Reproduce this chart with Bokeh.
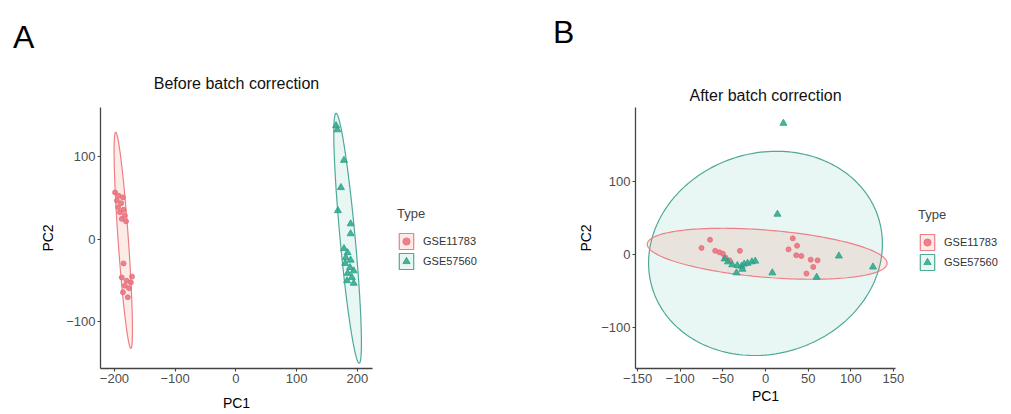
import numpy as np
from bokeh.plotting import figure
from bokeh.layouts import row
from bokeh.models import Range1d, FixedTicker, Legend, LegendItem, Div
from bokeh.embed import file_html
from bokeh.resources import INLINE

# ---------------- data ----------------
groups = ["GSE11783", "GSE57560"]
legend_title = "Type"
panel_letters = ["A", "B"]
panel_titles = ["Before batch correction", "After batch correction"]

# Panel A: before batch correction
a_red_x = [-199, -193, -186, -196, -189, -194, -185, -191, -183, -188, -181,
           -185, -188, -180, -173, -183, -176, -186, -178, -171]
a_red_y = [57, 53, 51, 47, 44, 39, 36, 33, 29, 25, 22,
           -29, -46, -50, -52, -56, -59, -64, -70, -45]
a_grn_x = [165, 167, 178, 173, 168, 189, 189,
           178, 184, 181, 189, 180, 188, 194, 184, 191, 194, 183]
a_grn_y = [138, 133, 96, 63, 35, 19, 7,
           -11, -16, -22, -25, -29, -34, -38, -41, -46, -53, -50]

# Panel B: after batch correction
b_red_x = [-75, -65, -59, -54, -50, -47, -30, 32, 37, 27, 36, 42, 53, 61, 56, 48, -42]
b_red_y = [9, 20, 5, 3, 1, -4, 5, 22, 12, 7, -1, -2, -7, -8, -17, -26, -8]
b_grn_x = [21, 14, 86, 126, 8, 60,
           -48, -44, -39, -34, -33, -28, -25, -21, -16, -12, -27]
b_grn_y = [179, 55, -2, -17, -25, -31,
           -6, -10, -14, -25, -15, -16, -13, -12, -10, -9, -20]

# confidence ellipses: centre (cx, cy), conjugate semi-axis vectors a=(ax, ay), b=(bx, by)
a_ell_red = dict(cx=-185.5, cy=-1.0, ax=-12.5, ay=131.0, bx=8.5, by=0.0)
a_ell_grn = dict(cx=184.0, cy=1.5, ax=-19.0, ay=151.5, bx=12.5, by=0.0)
b_ell_red = dict(cx=2.0, cy=1.0, ax=140.5, ay=-13.6, bx=3.0, by=32.0)
b_ell_grn = dict(cx=0.0, cy=1.5, ax=137.0, ay=9.0, bx=4.0, by=139.0)

a_xticks = [-200, -100, 0, 100, 200]
a_yticks = [-100, 0, 100]
b_xticks = [-150, -100, -50, 0, 50, 100, 150]
b_yticks = [-100, 0, 100]

RED = "#E8707A"
GRN = "#2BA58A"
FONT = "Liberation Sans"
RED_FILL = dict(fill_color="#F08070", fill_alpha=0.16, line_color="#EE7F85", line_width=1.2)
GRN_FILL = dict(fill_color="#00A087", fill_alpha=0.09, line_color="#4FA996", line_width=1.2)
RED_PT = dict(marker="circle", size=5, fill_color=RED, line_color=RED, fill_alpha=0.85, line_alpha=0.85)
GRN_PT = dict(marker="triangle", size=7, fill_color=GRN, line_color=GRN, fill_alpha=0.85, line_alpha=0.85)

H = 414          # figure height
TOP = 107        # common top border (frames line up across the row)
BOTTOM = 46      # common bottom border


def ellipse_pts(e, n=200):
    t = np.linspace(0, 2 * np.pi, n)
    xs = e["cx"] + e["ax"] * np.cos(t) + e["bx"] * np.sin(t)
    ys = e["cy"] + e["ay"] * np.cos(t) + e["by"] * np.sin(t)
    return xs, ys


def style_axes(p, xt, yt):
    p.xaxis.ticker = FixedTicker(ticks=xt)
    p.yaxis.ticker = FixedTicker(ticks=yt)
    for ax in (p.xaxis[0], p.yaxis[0]):
        ax.axis_line_color = "#444444"
        ax.axis_line_width = 1.3
        ax.major_tick_line_color = "#444444"
        ax.major_tick_line_width = 1.1
        ax.major_tick_out = 3
        ax.major_tick_in = 0
        ax.minor_tick_line_color = None
        ax.major_label_text_color = "#4D4D4D"
        ax.major_label_text_font = FONT
        ax.major_label_text_font_size = "13px"
        ax.major_label_standoff = 2
        ax.axis_label_text_font = FONT
        ax.axis_label_text_font_size = "14px"
        ax.axis_label_text_font_style = "normal"
        ax.axis_label_text_color = "#000000"
    p.xgrid.grid_line_color = None
    p.ygrid.grid_line_color = None
    p.outline_line_color = None


def letter_div(letter, width, pad_left, pad_top):
    html = ('<div style="padding:%dpx 0 0 %dpx;font-family:\'Liberation Sans\';'
            'font-size:32px;line-height:32px;color:#000000;">%s</div>' % (pad_top, pad_left, letter))
    return Div(text=html, width=width, height=H, margin=0)


def legend_fig(width, loc, rx, ry, gx, gy, er, eg):
    # legend-only figure: same series, view range set away from the data
    p = figure(width=width, height=H, x_range=Range1d(1000, 1000 + width),
               y_range=Range1d(1000, 1000 + H), x_axis_type=None, y_axis_type=None,
               output_backend="svg", toolbar_location=None, title=None,
               min_border_left=0, min_border_right=0,
               min_border_top=TOP, min_border_bottom=BOTTOM)
    p.grid.visible = False
    p.outline_line_color = None
    exr, eyr = ellipse_pts(er)
    exg, eyg = ellipse_pts(eg)
    pr = p.patch(exr, eyr, **RED_FILL)
    sr = p.scatter(rx, ry, **RED_PT)
    pg = p.patch(exg, eyg, **GRN_FILL)
    sg = p.scatter(gx, gy, **GRN_PT)
    leg = Legend(items=[LegendItem(label=groups[0], renderers=[pr, sr]),
                        LegendItem(label=groups[1], renderers=[pg, sg])],
                 location=loc, title=legend_title,
                 title_text_font=FONT, title_text_font_size="13px",
                 title_text_font_style="normal", title_standoff=10,
                 label_text_font=FONT, label_text_font_size="11px",
                 label_text_color="#333333", label_standoff=8,
                 glyph_width=18, glyph_height=20, spacing=0, padding=0, margin=0,
                 border_line_color=None, background_fill_alpha=0)
    p.add_layout(leg)
    return p


def make_panel(width, fl, fr, xr, yr, xt, yt, rx, ry, gx, gy, er, eg,
               title, title_standoff, pc1_standoff, pc2_standoff, draw_green_first):
    p = figure(width=width, height=H,
               x_range=Range1d(*xr), y_range=Range1d(*yr),
               output_backend="svg", toolbar_location=None,
               min_border_left=fl, min_border_right=fr,
               min_border_top=TOP, min_border_bottom=BOTTOM)
    style_axes(p, xt, yt)
    p.yaxis.axis_label = "PC2"
    p.yaxis.axis_label_standoff = pc2_standoff
    p.xaxis.axis_label = "PC1"
    p.xaxis.axis_label_standoff = pc1_standoff

    p.title.text = title
    p.title.align = "center"
    p.title.text_font = FONT
    p.title.text_font_size = "16px"
    p.title.text_font_style = "normal"
    p.title.text_color = "#111111"
    p.title.standoff = title_standoff

    exr, eyr = ellipse_pts(er)
    exg, eyg = ellipse_pts(eg)
    if draw_green_first:
        p.patch(exg, eyg, **GRN_FILL)
        p.patch(exr, eyr, **RED_FILL)
    else:
        p.patch(exr, eyr, **RED_FILL)
        p.patch(exg, eyg, **GRN_FILL)
    p.scatter(rx, ry, **RED_PT)
    p.scatter(gx, gy, **GRN_PT)
    return p


la = letter_div(panel_letters[0], width=36, pad_left=13, pad_top=21)
pa = make_panel(width=350, fl=64, fr=14,
                xr=(-223, 225), yr=(-156.4, 160.0), xt=a_xticks, yt=a_yticks,
                rx=a_red_x, ry=a_red_y, gx=a_grn_x, gy=a_grn_y,
                er=a_ell_red, eg=a_ell_grn, title=panel_titles[0], title_standoff=32,
                pc1_standoff=9, pc2_standoff=7, draw_green_first=False)
ga = legend_fig(162, (11, 97), a_red_x, a_red_y, a_grn_x, a_grn_y, a_ell_red, a_ell_grn)

lb = letter_div(panel_letters[1], width=26, pad_left=5, pad_top=16)
pb = make_panel(width=335, fl=61, fr=14,
                xr=(-152.4, 152.4), yr=(-155.5, 200.5), xt=b_xticks, yt=b_yticks,
                rx=b_red_x, ry=b_red_y, gx=b_grn_x, gy=b_grn_y,
                er=b_ell_red, eg=b_ell_grn, title=panel_titles[1], title_standoff=8,
                pc1_standoff=2, pc2_standoff=4, draw_green_first=True)
gb = legend_fig(102, (9, 96), b_red_x, b_red_y, b_grn_x, b_grn_y, b_ell_red, b_ell_grn)

layout = row(la, pa, ga, lb, pb, gb)
open("out.html", "w").write(file_html(layout, INLINE))
